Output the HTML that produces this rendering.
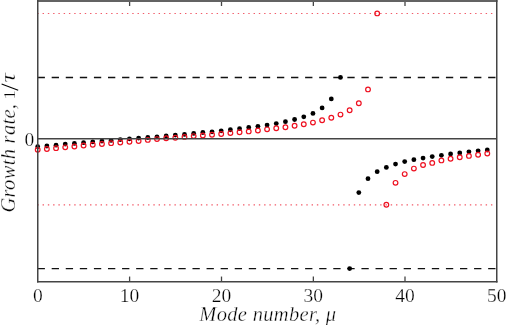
<!DOCTYPE html>
<html><head><meta charset="utf-8"><style>
html,body{margin:0;padding:0;background:#fff;width:506px;height:325px;overflow:hidden}
svg{display:block;will-change:transform}
.t{font-family:"Liberation Serif",serif;font-size:19.5px;fill:#000;stroke:#fff;stroke-width:0.25px}
.l{font-family:"Liberation Serif",serif;font-size:20.5px;font-style:italic;fill:#000;stroke:#fff;stroke-width:0.35px}
</style></head><body>
<svg width="506" height="325" viewBox="0 0 506 325">
<line x1="37.3" y1="13.5" x2="496.75" y2="13.5" stroke="#f25a68" stroke-width="1.1" stroke-dasharray="1.4 3.875"/>
<line x1="37.3" y1="204.9" x2="496.75" y2="204.9" stroke="#f25a68" stroke-width="1.1" stroke-dasharray="1.4 3.875"/>
<line x1="37.6" y1="77.5" x2="496.75" y2="77.5" stroke="#111" stroke-width="1.3" stroke-dasharray="7.3 6.78"/>
<line x1="37.6" y1="268.6" x2="496.75" y2="268.6" stroke="#111" stroke-width="1.3" stroke-dasharray="7.3 6.78"/>
<circle cx="37.70" cy="146.7" r="2.4" fill="#000"/>
<circle cx="46.88" cy="146.0" r="2.4" fill="#000"/>
<circle cx="56.05" cy="145.2" r="2.4" fill="#000"/>
<circle cx="65.23" cy="144.1" r="2.4" fill="#000"/>
<circle cx="74.40" cy="143.4" r="2.4" fill="#000"/>
<circle cx="83.58" cy="142.65" r="2.4" fill="#000"/>
<circle cx="92.75" cy="141.9" r="2.4" fill="#000"/>
<circle cx="101.93" cy="141.1" r="2.4" fill="#000"/>
<circle cx="111.10" cy="140.4" r="2.4" fill="#000"/>
<circle cx="120.28" cy="139.6" r="2.4" fill="#000"/>
<circle cx="129.45" cy="138.8" r="2.4" fill="#000"/>
<circle cx="138.62" cy="138.1" r="2.4" fill="#000"/>
<circle cx="147.80" cy="137.5" r="2.4" fill="#000"/>
<circle cx="156.98" cy="136.8" r="2.4" fill="#000"/>
<circle cx="166.15" cy="136.0" r="2.4" fill="#000"/>
<circle cx="175.32" cy="135.1" r="2.4" fill="#000"/>
<circle cx="184.50" cy="134.4" r="2.4" fill="#000"/>
<circle cx="193.68" cy="133.4" r="2.4" fill="#000"/>
<circle cx="202.85" cy="132.5" r="2.4" fill="#000"/>
<circle cx="212.03" cy="131.8" r="2.4" fill="#000"/>
<circle cx="221.20" cy="130.8" r="2.4" fill="#000"/>
<circle cx="230.38" cy="129.75" r="2.4" fill="#000"/>
<circle cx="239.55" cy="128.7" r="2.4" fill="#000"/>
<circle cx="248.73" cy="127.5" r="2.4" fill="#000"/>
<circle cx="257.90" cy="126.3" r="2.4" fill="#000"/>
<circle cx="267.08" cy="125.1" r="2.4" fill="#000"/>
<circle cx="276.25" cy="123.6" r="2.4" fill="#000"/>
<circle cx="285.43" cy="121.7" r="2.4" fill="#000"/>
<circle cx="294.60" cy="119.5" r="2.4" fill="#000"/>
<circle cx="303.78" cy="116.8" r="2.4" fill="#000"/>
<circle cx="312.95" cy="113.4" r="2.4" fill="#000"/>
<circle cx="322.12" cy="107.9" r="2.4" fill="#000"/>
<circle cx="331.30" cy="98.9" r="2.4" fill="#000"/>
<circle cx="340.48" cy="77.4" r="2.4" fill="#000"/>
<circle cx="349.65" cy="268.6" r="2.4" fill="#000"/>
<circle cx="358.82" cy="192.6" r="2.4" fill="#000"/>
<circle cx="368.00" cy="178.7" r="2.4" fill="#000"/>
<circle cx="377.18" cy="171.7" r="2.4" fill="#000"/>
<circle cx="386.35" cy="167.4" r="2.4" fill="#000"/>
<circle cx="395.53" cy="164.1" r="2.4" fill="#000"/>
<circle cx="404.70" cy="161.6" r="2.4" fill="#000"/>
<circle cx="413.88" cy="159.65" r="2.4" fill="#000"/>
<circle cx="423.05" cy="158.1" r="2.4" fill="#000"/>
<circle cx="432.23" cy="156.6" r="2.4" fill="#000"/>
<circle cx="441.40" cy="155.3" r="2.4" fill="#000"/>
<circle cx="450.58" cy="153.9" r="2.4" fill="#000"/>
<circle cx="459.75" cy="153.0" r="2.4" fill="#000"/>
<circle cx="468.93" cy="151.8" r="2.4" fill="#000"/>
<circle cx="478.10" cy="150.8" r="2.4" fill="#000"/>
<circle cx="487.28" cy="150.0" r="2.4" fill="#000"/>
<circle cx="37.70" cy="149.7" r="2.35" fill="none" stroke="#ee1020" stroke-width="1.2"/>
<circle cx="46.88" cy="149.0" r="2.35" fill="none" stroke="#ee1020" stroke-width="1.2"/>
<circle cx="56.05" cy="148.15" r="2.35" fill="none" stroke="#ee1020" stroke-width="1.2"/>
<circle cx="65.23" cy="147.35" r="2.35" fill="none" stroke="#ee1020" stroke-width="1.2"/>
<circle cx="74.40" cy="146.5" r="2.35" fill="none" stroke="#ee1020" stroke-width="1.2"/>
<circle cx="83.58" cy="145.55" r="2.35" fill="none" stroke="#ee1020" stroke-width="1.2"/>
<circle cx="92.75" cy="144.7" r="2.35" fill="none" stroke="#ee1020" stroke-width="1.2"/>
<circle cx="101.93" cy="144.0" r="2.35" fill="none" stroke="#ee1020" stroke-width="1.2"/>
<circle cx="111.10" cy="143.15" r="2.35" fill="none" stroke="#ee1020" stroke-width="1.2"/>
<circle cx="120.28" cy="142.5" r="2.35" fill="none" stroke="#ee1020" stroke-width="1.2"/>
<circle cx="129.45" cy="141.7" r="2.35" fill="none" stroke="#ee1020" stroke-width="1.2"/>
<circle cx="138.62" cy="141.0" r="2.35" fill="none" stroke="#ee1020" stroke-width="1.2"/>
<circle cx="147.80" cy="139.9" r="2.35" fill="none" stroke="#ee1020" stroke-width="1.2"/>
<circle cx="156.98" cy="139.1" r="2.35" fill="none" stroke="#ee1020" stroke-width="1.2"/>
<circle cx="166.15" cy="138.3" r="2.35" fill="none" stroke="#ee1020" stroke-width="1.2"/>
<circle cx="175.32" cy="137.7" r="2.35" fill="none" stroke="#ee1020" stroke-width="1.2"/>
<circle cx="184.50" cy="136.9" r="2.35" fill="none" stroke="#ee1020" stroke-width="1.2"/>
<circle cx="193.68" cy="136.1" r="2.35" fill="none" stroke="#ee1020" stroke-width="1.2"/>
<circle cx="202.85" cy="135.5" r="2.35" fill="none" stroke="#ee1020" stroke-width="1.2"/>
<circle cx="212.03" cy="134.8" r="2.35" fill="none" stroke="#ee1020" stroke-width="1.2"/>
<circle cx="221.20" cy="134.0" r="2.35" fill="none" stroke="#ee1020" stroke-width="1.2"/>
<circle cx="230.38" cy="133.1" r="2.35" fill="none" stroke="#ee1020" stroke-width="1.2"/>
<circle cx="239.55" cy="132.3" r="2.35" fill="none" stroke="#ee1020" stroke-width="1.2"/>
<circle cx="248.73" cy="131.4" r="2.35" fill="none" stroke="#ee1020" stroke-width="1.2"/>
<circle cx="257.90" cy="130.5" r="2.35" fill="none" stroke="#ee1020" stroke-width="1.2"/>
<circle cx="267.08" cy="129.35" r="2.35" fill="none" stroke="#ee1020" stroke-width="1.2"/>
<circle cx="276.25" cy="128.3" r="2.35" fill="none" stroke="#ee1020" stroke-width="1.2"/>
<circle cx="285.43" cy="127.2" r="2.35" fill="none" stroke="#ee1020" stroke-width="1.2"/>
<circle cx="294.60" cy="125.75" r="2.35" fill="none" stroke="#ee1020" stroke-width="1.2"/>
<circle cx="303.78" cy="124.2" r="2.35" fill="none" stroke="#ee1020" stroke-width="1.2"/>
<circle cx="312.95" cy="122.6" r="2.35" fill="none" stroke="#ee1020" stroke-width="1.2"/>
<circle cx="322.12" cy="120.3" r="2.35" fill="none" stroke="#ee1020" stroke-width="1.2"/>
<circle cx="331.30" cy="117.7" r="2.35" fill="none" stroke="#ee1020" stroke-width="1.2"/>
<circle cx="340.48" cy="114.6" r="2.35" fill="none" stroke="#ee1020" stroke-width="1.2"/>
<circle cx="349.65" cy="110.25" r="2.35" fill="none" stroke="#ee1020" stroke-width="1.2"/>
<circle cx="358.82" cy="103.2" r="2.35" fill="none" stroke="#ee1020" stroke-width="1.2"/>
<circle cx="368.00" cy="89.4" r="2.35" fill="none" stroke="#ee1020" stroke-width="1.2"/>
<circle cx="377.18" cy="13.4" r="2.35" fill="none" stroke="#ee1020" stroke-width="1.2"/>
<circle cx="386.35" cy="204.8" r="2.35" fill="none" stroke="#ee1020" stroke-width="1.2"/>
<circle cx="395.53" cy="182.85" r="2.35" fill="none" stroke="#ee1020" stroke-width="1.2"/>
<circle cx="404.70" cy="174.1" r="2.35" fill="none" stroke="#ee1020" stroke-width="1.2"/>
<circle cx="413.88" cy="168.6" r="2.35" fill="none" stroke="#ee1020" stroke-width="1.2"/>
<circle cx="423.05" cy="165.05" r="2.35" fill="none" stroke="#ee1020" stroke-width="1.2"/>
<circle cx="432.23" cy="162.9" r="2.35" fill="none" stroke="#ee1020" stroke-width="1.2"/>
<circle cx="441.40" cy="160.4" r="2.35" fill="none" stroke="#ee1020" stroke-width="1.2"/>
<circle cx="450.58" cy="158.7" r="2.35" fill="none" stroke="#ee1020" stroke-width="1.2"/>
<circle cx="459.75" cy="157.2" r="2.35" fill="none" stroke="#ee1020" stroke-width="1.2"/>
<circle cx="468.93" cy="155.9" r="2.35" fill="none" stroke="#ee1020" stroke-width="1.2"/>
<circle cx="478.10" cy="154.75" r="2.35" fill="none" stroke="#ee1020" stroke-width="1.2"/>
<circle cx="487.28" cy="153.5" r="2.35" fill="none" stroke="#ee1020" stroke-width="1.2"/>
<line x1="37.75" y1="138.85" x2="496.75" y2="138.85" stroke="#444" stroke-width="1.5"/>
<line x1="129.60" y1="281.75" x2="129.60" y2="276.55" stroke="#444" stroke-width="1.3"/>
<line x1="129.60" y1="1.0" x2="129.60" y2="6.0" stroke="#444" stroke-width="1.3"/>
<line x1="221.50" y1="281.75" x2="221.50" y2="276.55" stroke="#444" stroke-width="1.3"/>
<line x1="221.50" y1="1.0" x2="221.50" y2="6.0" stroke="#444" stroke-width="1.3"/>
<line x1="313.35" y1="281.75" x2="313.35" y2="276.55" stroke="#444" stroke-width="1.3"/>
<line x1="313.35" y1="1.0" x2="313.35" y2="6.0" stroke="#444" stroke-width="1.3"/>
<line x1="405.00" y1="281.75" x2="405.00" y2="276.55" stroke="#444" stroke-width="1.3"/>
<line x1="405.00" y1="1.0" x2="405.00" y2="6.0" stroke="#444" stroke-width="1.3"/>
<rect x="37" y="0" width="460.5" height="2" fill="#636363"/>
<line x1="37.75" y1="0" x2="37.75" y2="282.5" stroke="#444" stroke-width="1.5"/>
<line x1="496.75" y1="0" x2="496.75" y2="282.5" stroke="#444" stroke-width="1.5"/>
<line x1="37" y1="281.75" x2="497.5" y2="281.75" stroke="#444" stroke-width="1.5"/>
<text x="37.75" y="301.6" text-anchor="middle" class="t">0</text>
<text x="129.60" y="301.6" text-anchor="middle" class="t">10</text>
<text x="221.50" y="301.6" text-anchor="middle" class="t">20</text>
<text x="313.35" y="301.6" text-anchor="middle" class="t">30</text>
<text x="405.00" y="301.6" text-anchor="middle" class="t">40</text>
<text x="496.75" y="301.6" text-anchor="middle" class="t">50</text>
<text x="34.3" y="145.5" text-anchor="end" class="t">0</text>
<text x="267.75" y="320.6" text-anchor="middle" class="l" textLength="136.8" lengthAdjust="spacing">Mode number, μ</text>
<text transform="translate(15.2,212.5) rotate(-90)" class="l" textLength="108.5" lengthAdjust="spacing">Growth rate,</text>
<text transform="translate(15.0,94.9) rotate(-90)" text-anchor="middle" class="t" style="font-size:17.5px">1</text>
<line x1="1.6" y1="83.9" x2="18.2" y2="90.3" stroke="#000" stroke-width="1.05"/>
<text transform="translate(15.2,77.7) rotate(-90) scale(1.35,1)" text-anchor="middle" class="l" style="font-size:20px">τ</text>
</svg>
</body></html>
